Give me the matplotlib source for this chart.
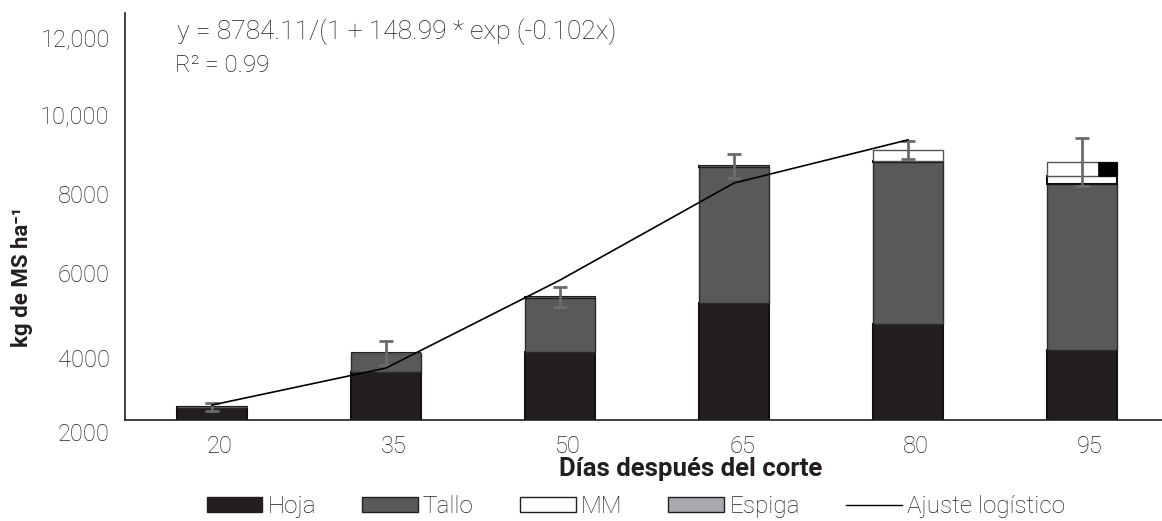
import numpy as np
import matplotlib.pyplot as plt
import matplotlib.transforms as mtransforms
from matplotlib.patches import Patch
from matplotlib.lines import Line2D

plt.rcParams['font.family'] = ['Roboto', 'DejaVu Sans']
plt.rcParams['font.weight'] = 'light'

dias = ['20', '35', '50', '65', '80', '95']
hoja = [400, 1480, 2095, 3605, 2960, 2157]
tallo = [0, 585, 1665, 4195, 4990, 5116]
mm = [0, 0, 30, 30, 40, 245]
espiga = [0, 0, 0, 0, 340, 430]
err = [110, 370, 310, 370, 280, 725]
ajuste = [460, 1600, 4310, 7300, 8630]   # fitted curve, 20 to 80 days

ytick_pos = [0, 1910, 4530, 6965, 9400, 11770]
ytick_lab = ['2000', '4000', '6000', '8000', '10,000', '12,000']

c_hoja = '#231f20'
c_tallo = '#58595b'
c_mm = '#ffffff'
c_espiga = '#a7a9ac'
c_txt = '#231f20'

fig = plt.figure(figsize=(11.62, 5.21), dpi=100)
ax = fig.add_axes([0.1076, 0.1939, 0.8924, 0.7812])

x = np.arange(len(dias))
w = 0.40
hoja = np.array(hoja)
tallo = np.array(tallo)
mm = np.array(mm)
espiga = np.array(espiga)

ax.bar(x, hoja, w, color=c_hoja, edgecolor='#111111', linewidth=1.5)
b2 = hoja
ax.bar(x, tallo, w, bottom=b2, color=c_tallo, edgecolor='#2b2b2b', linewidth=1.0)
b3 = b2 + tallo
ax.bar(x, mm, w, bottom=b3, color=c_mm, edgecolor='#111111', linewidth=1.5)
b4 = b3 + mm
ax.bar(x, espiga, w, bottom=b4, color='white', edgecolor='#555555', linewidth=1.0)
# dark block in the upper segment of the last bar
ax.bar(x[-1] + w / 2, espiga[-1], -0.11, bottom=b4[-1], align='edge',
       color='black', edgecolor='black', linewidth=0.5)

total = b4 + espiga
ax.errorbar(x, total, yerr=err, fmt='none', ecolor='#6b6b6b',
            elinewidth=2.0, capsize=5, capthick=2.0, zorder=4)

ax.plot(x[:len(ajuste)], ajuste, color='black', linewidth=1.2, zorder=5)

ax.set_xlim(-0.5, 5.46)
ax.set_ylim(0, 12540)
ax.set_xticks(x, dias)
ax.set_yticks(ytick_pos, ytick_lab)
ax.tick_params(axis='both', length=0, labelsize=17, colors=c_txt)
ax.tick_params(axis='y', pad=11)
ax.tick_params(axis='x', pad=11)
for s in ['top', 'right']:
    ax.spines[s].set_visible(False)
for s in ['left', 'bottom']:
    ax.spines[s].set_linewidth(1.2)
    ax.spines[s].set_color(c_txt)

# nudge tick labels
tk = ax.yaxis.get_major_ticks()[0].label1
tk.set_transform(tk.get_transform() +
                 mtransforms.ScaledTranslation(0, -0.12, fig.dpi_scale_trans))
for t in ax.xaxis.get_major_ticks():
    lab = t.label1
    lab.set_transform(lab.get_transform() +
                      mtransforms.ScaledTranslation(0.08, 0, fig.dpi_scale_trans))

ax.set_xlabel('Días después del corte', fontsize=18.5, fontweight='bold', color=c_txt)
ax.xaxis.set_label_coords(0.5455, -0.092)
ax.set_ylabel('kg de MS ha⁻¹', fontsize=16, fontweight='bold', color=c_txt)
ax.yaxis.set_label_coords(-0.089, 0.351)

ax.text(0.050, 0.955, 'y = 8784.11/(1 + 148.99 * exp (-0.102x)', transform=ax.transAxes,
        fontsize=19, color=c_txt, va='center', ha='left')
ax.text(0.048, 0.872, 'R² = 0.99', transform=ax.transAxes,
        fontsize=17.5, color=c_txt, va='center', ha='left')

handles = [
    Patch(facecolor=c_hoja, edgecolor=c_hoja),
    Patch(facecolor=c_tallo, edgecolor=c_txt),
    Patch(facecolor=c_mm, edgecolor=c_txt),
    Patch(facecolor=c_espiga, edgecolor=c_txt),
    Line2D([], [], color='black', linewidth=1.0),
]
labels = ['Hoja', 'Tallo', 'MM', 'Espiga', 'Ajuste logístico']
fig.legend(handles, labels, loc='center', bbox_to_anchor=(0.547, 0.028), ncol=5,
           frameon=False, fontsize=17.5, handlelength=2.3, handleheight=0.55,
           handletextpad=0.2, columnspacing=1.9, labelcolor=c_txt)

fig.savefig('out.png', dpi=100)
